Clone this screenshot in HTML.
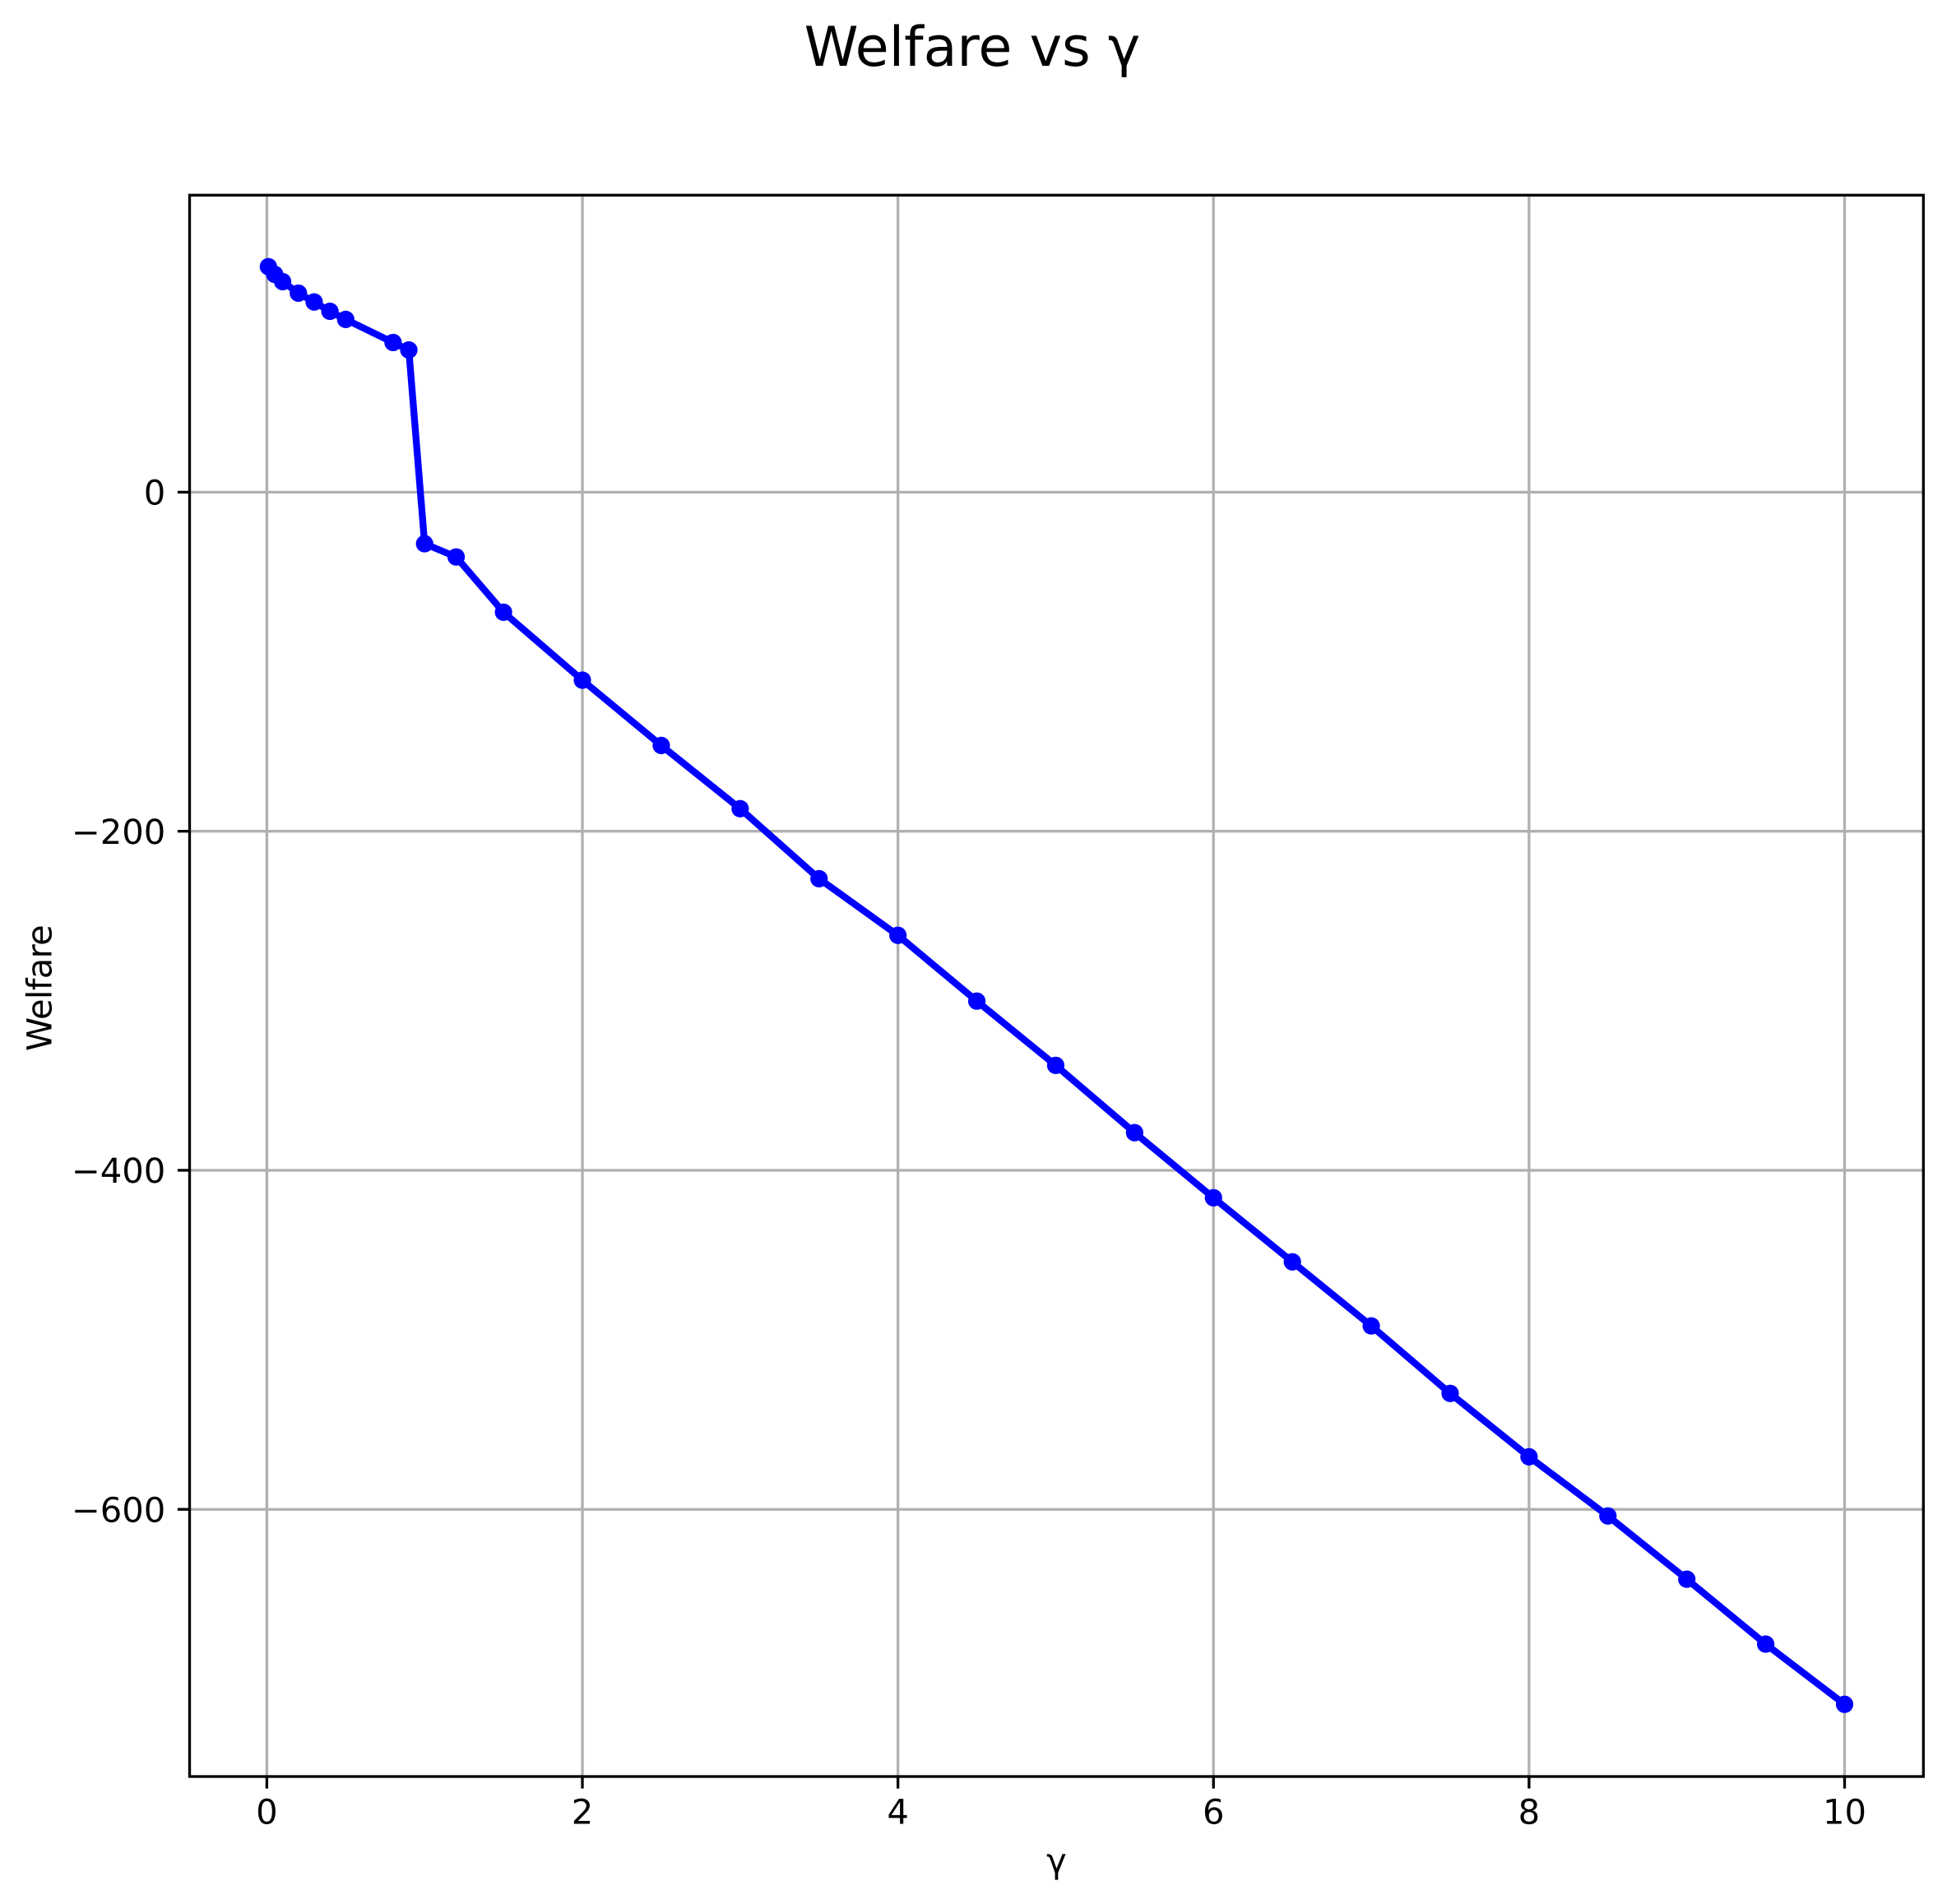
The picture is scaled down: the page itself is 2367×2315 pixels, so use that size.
<!DOCTYPE html>
<html lang="en">
<head>
<meta charset="utf-8">
<title>Welfare vs γ</title>
<style>
  html, body { margin: 0; padding: 0; background: #fff; }
  svg { display: block; }
  text { font-family: "DejaVu Sans", "Liberation Sans", sans-serif; fill: #000; text-rendering: geometricPrecision; }
</style>
</head>
<body>
<svg id="chart" xmlns="http://www.w3.org/2000/svg" width="2367" height="2315" viewBox="0 0 2367 2315">
  <rect x="0" y="0" width="2367" height="2315" fill="#ffffff"/>
  <text x="1182" y="80" font-size="66.67" text-anchor="middle">Welfare vs γ</text>
  <g id="grid"></g>
  <g id="series"></g>
  <rect x="230.5" y="237.3" width="2107.8" height="1922.7" fill="none" stroke="#000" stroke-width="3.33" stroke-linejoin="miter"/>
  <g id="ticks"></g>
  <text x="1284.4" y="2277" font-size="41.67" text-anchor="middle">γ</text>
  <text transform="translate(62.7 1201.5) rotate(-90)" x="0" y="0" font-size="41.67" letter-spacing="-0.7" text-anchor="middle">Welfare</text>
</svg>
<script>
const gammaValues = [0.01, 0.05, 0.1, 0.2, 0.3, 0.4, 0.5, 0.8, 0.9, 1, 1.2, 1.5, 2, 2.5, 3, 3.5, 4, 4.5, 5, 5.5, 6, 6.5, 7, 7.5, 8, 8.5, 9, 9.5, 10];
const welfareValues = [133, 128.5, 124.2, 117.4, 112.2, 106.7, 101.9, 88.3, 83.9, -30.4, -38.2, -70.8, -110.9, -149.4, -186.7, -228, -261.4, -300.2, -338.1, -377.8, -416.2, -454, -491.8, -531.6, -569, -603.9, -641.2, -679.5, -715];
const xTickValues = [0, 2, 4, 6, 8, 10];
const yTickValues = [0, -200, -400, -600];

const plotLeft = 230.5, plotRight = 2338.3, plotTop = 237.3, plotBottom = 2160;
const xDomainMin = -0.4895, xDomainMax = 10.4995;
const yDomainMin = -757.6, yDomainMax = 175.2;

function xScale(v) {
  return plotLeft + (v - xDomainMin) / (xDomainMax - xDomainMin) * (plotRight - plotLeft);
}
function yScale(v) {
  return plotBottom - (v - yDomainMin) / (yDomainMax - yDomainMin) * (plotBottom - plotTop);
}
function yTickLabel(v) {
  return v < 0 ? '\u2212' + Math.abs(v) : String(v);
}

const SVG_NS = 'http://www.w3.org/2000/svg';
function make(tag, attrs, parent) {
  const el = document.createElementNS(SVG_NS, tag);
  for (const k in attrs) el.setAttribute(k, attrs[k]);
  parent.appendChild(el);
  return el;
}

const gridGroup = document.getElementById('grid');
const ticksGroup = document.getElementById('ticks');
const seriesGroup = document.getElementById('series');

xTickValues.forEach(function (v) {
  const px = xScale(v);
  const gridLine = make('line', {x1: px, x2: px, y1: plotTop, y2: plotBottom, stroke: '#b0b0b0', 'stroke-width': 3.33}, gridGroup);
  
  
  const tick = make('line', {x1: px, x2: px, y1: plotBottom, y2: plotBottom + 14.6, stroke: '#000', 'stroke-width': 3.33}, ticksGroup);
  
  
  const label = make('text', {x: px, y: 2217.5, 'font-size': 41.67, 'text-anchor': 'middle'}, ticksGroup);
  label.textContent = String(v);
  
  
});

yTickValues.forEach(function (v) {
  const py = yScale(v);
  const gridLine = make('line', {x1: plotLeft, x2: plotRight, y1: py, y2: py, stroke: '#b0b0b0', 'stroke-width': 3.33}, gridGroup);
  
  
  const tick = make('line', {x1: plotLeft - 14.6, x2: plotLeft, y1: py, y2: py, stroke: '#000', 'stroke-width': 3.33}, ticksGroup);
  
  
  const label = make('text', {x: 201.3, y: py + 15.2, 'font-size': 41.67, 'text-anchor': 'end'}, ticksGroup);
  label.textContent = yTickLabel(v);
  
  
});

const linePoints = gammaValues.map(function (g, i) {
  return xScale(g) + ',' + yScale(welfareValues[i]);
}).join(' ');
const seriesLine = make('polyline', {points: linePoints, fill: 'none', stroke: '#0000ff', 'stroke-width': 8.33, 'stroke-linejoin': 'round', 'stroke-linecap': 'square'}, seriesGroup);



gammaValues.forEach(function (g, i) {
  const dot = make('circle', {cx: xScale(g), cy: yScale(welfareValues[i]), r: 10.6, fill: '#0000ff'}, seriesGroup);
  
  
});
</script>
</body>
</html>
